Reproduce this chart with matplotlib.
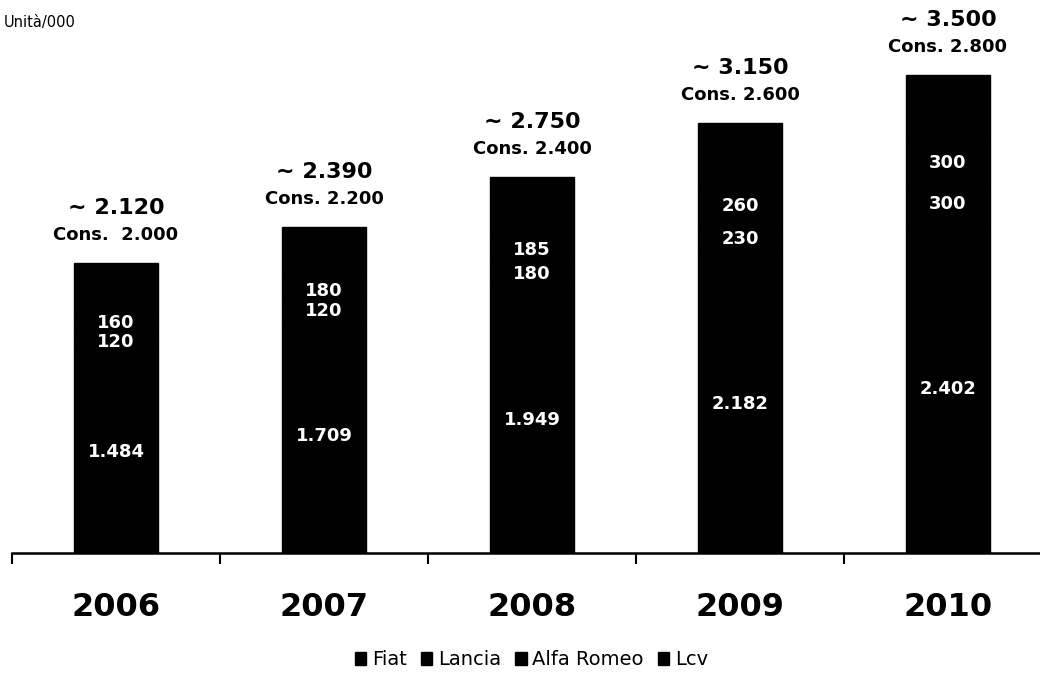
import numpy as np
import matplotlib.pyplot as plt

# Volumi per marchio (migliaia di unità)
anni = ['2006', '2007', '2008', '2009', '2010']
fiat = [1484, 1709, 1949, 2182, 2402]
lancia = [120, 120, 180, 230, 300]
alfa = [160, 180, 185, 260, 300]
lcv = [356, 381, 436, 478, 498]
totale = ['~ 2.120', '~ 2.390', '~ 2.750', '~ 3.150', '~ 3.500']
consensus = ['Cons.  2.000', 'Cons. 2.200', 'Cons. 2.400', 'Cons. 2.600', 'Cons. 2.800']
fiat_lbl = ['1.484', '1.709', '1.949', '2.182', '2.402']

fig = plt.figure(figsize=(10.4, 6.86), dpi=100)
ax = fig.add_axes([12 / 1040, 0.194, 1 - 12 / 1040, 0.806])

x = np.arange(len(anni))
w = 0.40
serie = [('Fiat', fiat), ('Lancia', lancia), ('Alfa Romeo', alfa), ('Lcv', lcv)]
base = np.zeros(len(anni))
barre = []
for nome, val in serie:
    b = ax.bar(x, val, w, bottom=base, color='black', edgecolor='black', label=nome)
    barre.append(b)
    base = base + np.array(val)

# etichette dentro le barre
for i in range(len(anni)):
    ax.text(x[i], fiat[i] / 2, fiat_lbl[i], color='white', fontsize=13,
            fontweight='bold', ha='center', va='center')
    ax.text(x[i], fiat[i] + lancia[i] / 2, str(lancia[i]), color='white', fontsize=13,
            fontweight='bold', ha='center', va='center')
    ax.text(x[i], fiat[i] + lancia[i] + alfa[i] / 2, str(alfa[i]), color='white',
            fontsize=13, fontweight='bold', ha='center', va='center')
    ax.annotate(totale[i], (x[i], base[i]), xytext=(0, 55), textcoords='offset pixels',
                ha='center', va='center', fontsize=16, fontweight='bold')
    ax.annotate(consensus[i], (x[i], base[i]), xytext=(0, 28), textcoords='offset pixels',
                ha='center', va='center', fontsize=13, fontweight='bold')

ax.set_xlim(-0.5, -0.5 + 1028 / 208)
ax.set_ylim(0, 4049)
for s in ['top', 'right', 'left']:
    ax.spines[s].set_visible(False)
ax.spines['bottom'].set_linewidth(1.8)
ax.set_yticks([])
ax.set_xticks(x)
ax.set_xticklabels(anni, fontsize=23, fontweight='bold')
ax.tick_params(axis='x', which='major', length=0, pad=28)
ax.set_xticks(np.arange(-0.5, 4.0, 1.0), minor=True)
ax.tick_params(axis='x', which='minor', length=8, width=1.5, direction='out')

fig.text(0.004, 0.967, 'Unità/000', fontsize=10.5, ha='left', va='center')

fig.legend(handles=barre, loc='center', bbox_to_anchor=(0.511, 0.038), ncol=4,
           frameon=False, fontsize=14, handlelength=0.6, handleheight=0.6,
           handletextpad=0.3, columnspacing=0.7)

plt.savefig('out.png', dpi=100)
